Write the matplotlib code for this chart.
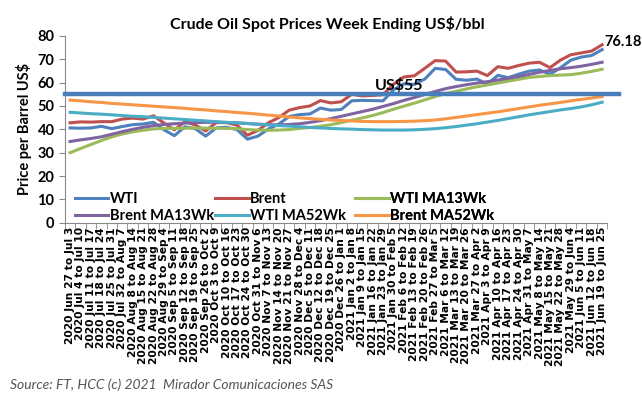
import matplotlib.pyplot as plt

weeks = [
    "2020 Jun 27 to Jul 3", "2020 Jul 4 to Jul 10", "2020 Jul 11 to Jul 17",
    "2020 Jul 18 to Jul 24", "2020 Jul 25 to Jul 31", "2020 Jul 32 to Aug 7",
    "2020 Aug 8 to Aug 14", "2020 Aug 15 to Aug 21", "2020 Aug 22 to Aug 28",
    "2020 Aug 29 to Sep 4", "2020 Sep 5 to Sep 11", "2020 Sep 12 to Sep 18",
    "2020 Sep 19 to Sep 25", "2020 Sep 26 to Oct 2", "2020 Oct 3 to Oct 9",
    "2020 Oct 10 to Oct 16", "2020 Oct 17 to Oct 23", "2020 Oct 24 to Oct 30",
    "2020 Oct 31 to Nov 6", "2020 Nov 7 to Nov 13", "2020 Nov 14 to Nov 20",
    "2020 Nov 21 to Nov 27", "2020 Nov 28 to Dec 4", "2020 Dec 5 to Dec 11",
    "2020 Dec 12 to Dec 18", "2020 Dec 19 to Dec 25", "2020 Dec 26 to Jan 1",
    "2021 Jan 2 to Jan 8", "2021 Jan 9 to Jan 15", "2021 Jan 16 to Jan 22",
    "2021 Jan 23 to Jan 29", "2021 Jan 30 to Feb 5", "2021 Feb 6 to Feb 12",
    "2021 Feb 13 to Feb 19", "2021 Feb 20 to Feb 26", "2021 Feb 27 to Mar 5",
    "2021 Mar 6 to Mar 12", "2021 Mar 13 to Mar 19", "2021 Mar 20 to Mar 26",
    "2021 Mar 27 to Apr 2", "2021 Apr 3 to Apr 9", "2021 Apr 10 to Apr 16",
    "2021 Apr 17 to Apr 23", "2021 Apr 24 to Apr 30", "2021 Apr 31 to May 7",
    "2021 May 8 to May 14", "2021 May 15 to May 21", "2021 May 22 to May 28",
    "2021 May 29 to Jun 4", "2021 Jun 5 to Jun 11", "2021 Jun 12 to Jun 18",
    "2021 Jun 19 to Jun 25",
]

wti = [40.6, 40.5, 40.6, 41.3, 40.3, 41.2, 42.0, 42.3, 43.0, 39.8, 37.3, 41.1,
       40.3, 37.1, 40.6, 40.9, 39.9, 35.8, 37.1, 40.1, 42.2, 45.5, 46.3, 46.6,
       49.1, 48.2, 48.5, 52.2, 52.4, 52.3, 52.2, 56.9, 59.5, 59.2, 61.5, 66.1,
       65.6, 61.4, 61.0, 61.5, 59.3, 63.1, 62.1, 63.6, 64.9, 65.4, 63.6, 66.3,
       69.6, 70.9, 71.6, 74.1]
brent = [42.8, 43.2, 43.1, 43.3, 43.3, 44.4, 44.8, 44.4, 45.8, 42.7, 39.8, 43.2,
         41.9, 39.3, 42.9, 42.9, 41.8, 37.5, 39.5, 42.8, 45.0, 48.2, 49.3, 50.0,
         52.3, 51.3, 51.8, 55.0, 54.3, 54.5, 54.8, 59.3, 62.4, 62.9, 66.1, 69.4,
         69.2, 64.5, 64.6, 64.9, 63.0, 66.8, 66.1, 67.3, 68.3, 68.7, 66.4, 69.6,
         71.9, 72.7, 73.5, 76.18]
wti_ma13 = [30.0, 31.8, 33.5, 35.2, 36.8, 38.0, 38.9, 39.6, 40.2, 40.4, 40.4, 40.5,
            40.6, 40.5, 40.5, 40.4, 40.3, 39.9, 39.7, 39.6, 39.7, 39.9, 40.4, 40.8,
            41.3, 42.0, 42.9, 43.9, 44.9, 45.9, 47.2, 48.6, 49.9, 51.2, 52.6, 54.0,
            55.3, 56.3, 57.3, 58.2, 59.0, 59.8, 60.6, 61.4, 62.2, 62.6, 63.0, 63.2,
            63.4, 64.0, 64.8, 65.7]
brent_ma13 = [34.8, 35.5, 36.1, 36.8, 37.9, 39.0, 40.0, 40.9, 41.6, 42.1, 42.4, 42.7,
              42.9, 43.0, 43.0, 42.9, 42.8, 42.5, 42.2, 42.0, 41.9, 42.1, 42.4, 43.0,
              43.7, 44.6, 45.6, 46.6, 47.6, 48.6, 49.8, 51.0, 52.4, 53.6, 54.9, 56.2,
              57.4, 58.3, 59.1, 59.8, 60.4, 61.1, 61.8, 62.6, 63.5, 64.4, 65.2, 65.9,
              66.4, 67.0, 67.8, 68.7]
wti_ma52 = [47.3, 47.0, 46.7, 46.5, 46.2, 45.9, 45.6, 45.4, 45.1, 44.8, 44.5, 44.2,
            43.9, 43.6, 43.3, 43.0, 42.8, 42.5, 42.2, 41.9, 41.6, 41.4, 41.1, 40.8,
            40.6, 40.4, 40.2, 40.1, 39.9, 39.8, 39.7, 39.7, 39.7, 39.8, 40.0, 40.3,
            40.7, 41.2, 41.8, 42.4, 43.1, 43.8, 44.6, 45.4, 46.2, 46.9, 47.6, 48.3,
            48.9, 49.6, 50.5, 51.6]
brent_ma52 = [52.5, 52.2, 51.8, 51.5, 51.1, 50.8, 50.5, 50.2, 49.9, 49.6, 49.3, 49.0,
              48.6, 48.3, 47.9, 47.6, 47.2, 46.9, 46.5, 46.1, 45.7, 45.3, 44.9, 44.6,
              44.3, 44.0, 43.8, 43.6, 43.4, 43.3, 43.3, 43.3, 43.4, 43.5, 43.7, 44.0,
              44.5, 45.1, 45.7, 46.3, 46.9, 47.5, 48.2, 48.9, 49.6, 50.3, 50.9, 51.5,
              52.2, 52.8, 53.4, 54.0]
threshold = 55

plt.rcParams['font.family'] = ['Lato', 'DejaVu Sans']

fig = plt.figure(figsize=(6.42, 3.98), dpi=100)
ax = fig.add_axes([0.101, 0.44, 0.845, 0.47])

x = list(range(len(weeks)))
lw = 2.2
l1, = ax.plot(x, wti, color='#4F81BD', lw=lw, label='WTI')
l2, = ax.plot(x, brent, color='#C0504D', lw=lw, label='Brent')
l3, = ax.plot(x, wti_ma13, color='#9BBB59', lw=lw, label='WTI MA13Wk')
l4, = ax.plot(x, brent_ma13, color='#8064A2', lw=lw, label='Brent MA13Wk')
l5, = ax.plot(x, wti_ma52, color='#4BACC6', lw=lw, label='WTI MA52Wk')
l6, = ax.plot(x, brent_ma52, color='#F79646', lw=lw, label='Brent MA52Wk')

# US$55 reference line
ax.plot([-0.5, len(weeks) + 0.6], [threshold, threshold], color='#4A7EBB',
        lw=3.2, clip_on=False, zorder=5)
ax.text(31.5, threshold + 0.6, 'US$55', fontsize=11.5, fontweight='bold',
        ha='center', va='bottom', zorder=6)
ax.text(x[-1] + 0.2, brent[-1] + 1.3, f'{brent[-1]:.2f}', fontsize=10.5,
        fontweight='bold', ha='left', va='center')

ax.set_xlim(-0.5, len(weeks) - 0.5)
ax.set_ylim(0, 80)
ax.set_yticks(range(0, 81, 10))
ax.set_xticks(x)
ax.set_xticklabels(weeks, rotation=90, fontsize=7.7, fontweight='bold',
                   family='DejaVu Sans')
ax.set_xticks([i - 0.5 for i in range(len(weeks) + 1)], minor=True)
ax.tick_params(axis='x', which='major', length=0, pad=3)
ax.tick_params(axis='x', which='minor', length=4, color='#888888')
ax.tick_params(axis='y', length=4, color='#888888', labelsize=10.5)
for lab in ax.get_yticklabels():
    lab.set_fontweight('bold')
ax.spines['top'].set_visible(False)
ax.spines['right'].set_visible(False)
ax.spines['left'].set_color('#888888')
ax.spines['bottom'].set_color('#888888')
ax.set_ylabel('Price per Barrel US$', fontsize=10.5, fontweight='bold')

ax.set_title('Crude Oil Spot Prices Week Ending US$/bbl', fontsize=11.5,
             fontweight='bold', pad=5, x=0.483)

# legend: three columns placed like the original, rows read left to right
legend_cols = [([l1, l4], 0.018), ([l2, l5], 0.277), ([l3, l6], 0.535)]
for handles, xpos in legend_cols:
    leg = ax.legend(handles=handles, loc='lower left', bbox_to_anchor=(xpos, 0.0),
                    frameon=False, prop={'weight': 'bold', 'size': 10.5},
                    handlelength=2.3, handletextpad=0.1, labelspacing=0.2,
                    borderaxespad=0, borderpad=0)
    ax.add_artist(leg)

fig.text(0.015, 0.022, 'Source: FT, HCC (c) 2021  Mirador Comunicaciones SAS',
         fontsize=10, style='italic', color='#555555')

fig.savefig('out.png', dpi=100)
